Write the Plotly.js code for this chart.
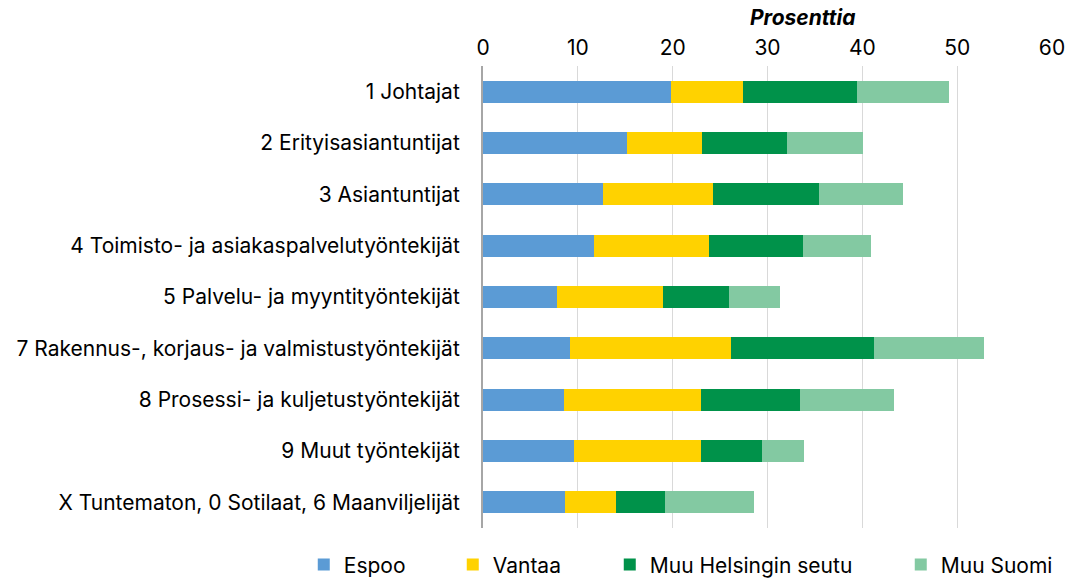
<!DOCTYPE html>
<html>
<head>
<meta charset="utf-8">
<script src="https://cdn.plot.ly/plotly-3.0.1.min.js"></script>
<style>html,body{margin:0;padding:0;background:#fff;}#chart{width:1069px;height:578px;}</style>
</head>
<body>
<div id="chart"></div>
<script>
const categories = [
  "1 Johtajat",
  "2 Erityisasiantuntijat",
  "3 Asiantuntijat",
  "4 Toimisto- ja asiakaspalvelutyöntekijät",
  "5 Palvelu- ja myyntityöntekijät",
  "7 Rakennus-, korjaus- ja valmistustyöntekijät",
  "8 Prosessi- ja kuljetustyöntekijät",
  "9 Muut työntekijät",
  "X Tuntematon, 0 Sotilaat, 6 Maanviljelijät"
];
const espoo        = [19.8, 15.2, 12.7, 11.7, 7.8, 9.2, 8.5, 9.6, 8.6];
const vantaa       = [7.6, 7.9, 11.5, 12.1, 11.2, 16.9, 14.5, 13.4, 5.4];
const muuHelsingin = [12.0, 9.0, 11.2, 9.9, 6.9, 15.1, 10.4, 6.4, 5.2];
const muuSuomi     = [9.7, 8.0, 8.9, 7.2, 5.4, 11.6, 9.9, 4.5, 9.4];
const seriesNames  = ["Espoo", "Vantaa", "Muu Helsingin seutu", "Muu Suomi"];
const colors       = ["#5b9bd5", "#ffd200", "#00924a", "#83c9a2"];
const legendWidths = [104, 112, 246, 120];
const xTicks       = [0, 10, 20, 30, 40, 50, 60];

const FONT = "Inter, 'Noto Sans', sans-serif";
const FS = 21;
const values = [espoo, vantaa, muuHelsingin, muuSuomi];
const traces = values.map((v, i) => ({
  type: "bar",
  orientation: "h",
  name: seriesNames[i],
  y: categories,
  x: v,
  legendwidth: legendWidths[i],
  marker: {color: colors[i], line: {width: 0}},
  hoverinfo: "x+name"
}));

const layout = {
  width: 1069, height: 578,
  margin: {l: 483, r: 17, t: 66, b: 50, autoexpand: false},
  paper_bgcolor: "#fff", plot_bgcolor: "#fff",
  barmode: "stack",
  bargap: 0.57,
  font: {family: FONT, size: FS, color: "#000"},
  showlegend: true,
  legend: {
    orientation: "h", x: -0.315, xanchor: "left", y: -0.08, yanchor: "middle",
    font: {family: FONT, size: FS, color: "#000"},
    itemwidth: 30, traceorder: "normal"
  },
  xaxis: {
    side: "top", range: [0, 60], tickvals: xTicks, ticktext: xTicks.map(String),
    showgrid: true, gridcolor: "#d9d9d9", gridwidth: 1,
    zeroline: false, showline: false, ticks: "",
    ticklabelstandoff: 6,
    tickfont: {family: FONT, size: FS, color: "#000"}, fixedrange: true
  },
  yaxis: {
    autorange: "reversed", showgrid: false, zeroline: false,
    showline: true, linecolor: "#a6a6a6", linewidth: 2, ticks: "",
    ticklabelstandoff: 17,
    tickfont: {family: FONT, size: FS, color: "#000"}, fixedrange: true
  },
  annotations: [{
    text: "<b><i>Prosenttia</i></b>", xref: "paper", yref: "paper",
    x: 0.561, y: 1.104, xanchor: "center", yanchor: "middle", showarrow: false,
    font: {family: FONT, size: FS, color: "#000"}
  }]
};

Plotly.newPlot("chart", traces, layout, {displayModeBar: false, staticPlot: true});
</script>
</body>
</html>
